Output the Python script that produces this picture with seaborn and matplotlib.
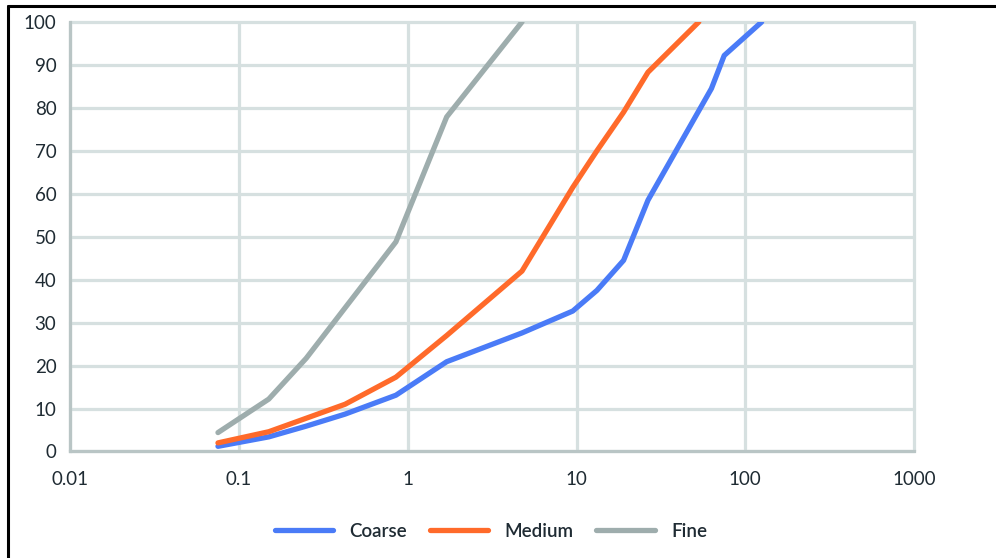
import matplotlib
matplotlib.use("Agg")
import matplotlib.pyplot as plt
import seaborn as sns
import pandas as pd
from matplotlib.lines import Line2D

coarse_x = [0.075, 0.15, 0.25, 0.425, 0.85, 1.7, 4.75, 9.5, 13.2, 19, 26.5, 63, 75, 125]
coarse_y = [1.2, 3.4, 5.9, 8.7, 13.1, 20.9, 27.6, 32.7, 37.5, 44.5, 58.5, 84.5, 92.2, 100]
medium_x = [0.075, 0.15, 0.425, 0.85, 1.7, 4.75, 9.5, 13.2, 19, 26.5, 53]
medium_y = [2.0, 4.6, 11.0, 17.3, 27.0, 42.0, 61.5, 70.0, 79.0, 88.3, 100]
fine_x = [0.075, 0.15, 0.25, 0.85, 1.7, 4.75]
fine_y = [4.4, 12.2, 21.7, 48.8, 77.9, 100]

series_names = ["Coarse", "Medium", "Fine"]
colors = ["#4a7bf7", "#ff6a2a", "#9eadad"]
x_ticks = [0.01, 0.1, 1, 10, 100, 1000]
x_labels = ["0.01", "0.1", "1", "10", "100", "1000"]
y_ticks = list(range(0, 101, 10))

rows = []
for name, xs, ys in zip(series_names, [coarse_x, medium_x, fine_x], [coarse_y, medium_y, fine_y]):
    for i, (x, y) in enumerate(zip(xs, ys)):
        rows.append({"size": x, "passing": y, "grade": name, "order": i})
df = pd.DataFrame(rows)

sns.set_theme(style="white")
plt.rcParams["font.family"] = ["Lato", "DejaVu Sans"]
text_color = "#1f2b33"
grid_color = "#d6e0e0"
spine_color = "#b9c5c5"

fig = plt.figure(figsize=(9.96, 5.58), dpi=100)
ax = fig.add_axes([0.0706, 0.1909, 0.9177 - 0.0706, 0.9606 - 0.1909])

sns.lineplot(data=df, x="size", y="passing", hue="grade", hue_order=series_names,
             palette=colors, sort=False, estimator=None, units="grade",
             linewidth=3.8, ax=ax, legend=True, solid_capstyle="round")

ax.set_xscale("log")
ax.set_xlim(0.01, 1000)
ax.set_ylim(0, 100)
ax.set_xticks(x_ticks)
ax.set_xticklabels(x_labels)
ax.set_yticks(y_ticks)
ax.minorticks_off()
ax.set_xlabel("")
ax.set_ylabel("")
ax.grid(True, which="major", color=grid_color, linewidth=2.3)
ax.set_axisbelow(True)
for ln in ax.get_xgridlines() + ax.get_ygridlines():
    ln.set_clip_on(False)
for s in ["top", "right"]:
    ax.spines[s].set_visible(False)
for s in ["left", "bottom"]:
    ax.spines[s].set_color(spine_color)
    ax.spines[s].set_linewidth(2.3)
ax.tick_params(axis="x", length=0, pad=14, labelsize=13.5, labelcolor=text_color)
ax.tick_params(axis="y", length=0, pad=10, labelsize=13.5, labelcolor=text_color)

handles = [Line2D([0], [0], color=c, linewidth=3.8, solid_capstyle="round") for c in colors]
leg = ax.legend(handles, series_names, loc="center", bbox_to_anchor=(0.493, 0.048),
                bbox_transform=fig.transFigure, ncol=3, frameon=False,
                prop={"size": 13.5, "weight": "semibold"},
                handlelength=3.1, handletextpad=0.9, columnspacing=1.2,
                labelcolor=text_color)

fig.add_artist(Line2D([8 / 996, 1.0], [1 - 6 / 558, 1 - 6 / 558], color="black",
                      linewidth=2.2, transform=fig.transFigure))
fig.add_artist(Line2D([8 / 996, 8 / 996], [0.0, 1 - 6 / 558], color="black",
                      linewidth=2.2, transform=fig.transFigure))

fig.savefig("out.png", dpi=100)
